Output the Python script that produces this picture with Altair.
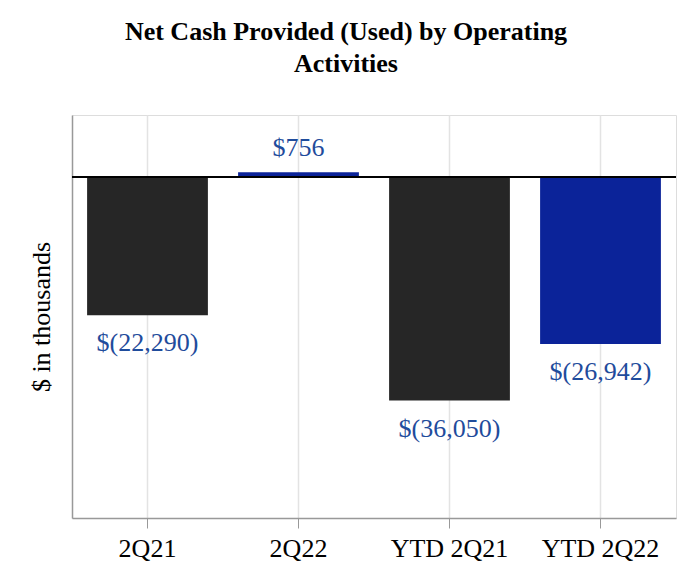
import altair as alt
import pandas as pd

categories = ["2Q21", "2Q22", "YTD 2Q21", "YTD 2Q22"]
values = [-22290, 756, -36050, -26942]
labels = ["$(22,290)", "$756", "$(36,050)", "$(26,942)"]
bar_colors = ["#262626", "#0b2399", "#262626", "#0b2399"]

df = pd.DataFrame({"cat": categories, "val": values, "label": labels, "color": bar_colors})

FONT = "Liberation Serif"
LABEL_COLOR = "#1f4c9c"
FS = 26

x_enc = alt.X("cat:N", sort=categories, title=None,
              scale=alt.Scale(paddingInner=0.2, paddingOuter=0.1),
              axis=alt.Axis(labelAngle=0, labelFont=FONT, labelFontSize=FS, labelColor="black",
                            labelPadding=7, tickSize=10, tickColor="#999999", domainColor="#999999",
                            domainWidth=1.5, grid=True, gridColor="#e3e3e3", gridWidth=1.5))
y_scale = alt.Scale(domain=[-55000, 10000], nice=False, zero=False)

base = alt.Chart(df)

bars = base.mark_bar().encode(
    x=x_enc,
    y=alt.Y("val:Q", scale=y_scale, title="$ in thousands",
            axis=alt.Axis(labels=False, ticks=False, grid=False, domainColor="#999999", domainWidth=1.5,
                          titleFont=FONT, titleFontSize=FS, titleFontWeight="normal", titleColor="black",
                          titlePadding=18)),
    y2=alt.datum(0),
    color=alt.Color("color:N", scale=None),
)

zero = base.mark_rule(color="black", strokeWidth=1.5).encode(y=alt.datum(0))

neg_text = base.transform_filter("datum.val < 0").mark_text(
    font=FONT, fontSize=FS, color=LABEL_COLOR, baseline="middle", dy=28
).encode(x=alt.X("cat:N", sort=categories), y=alt.Y("val:Q", scale=y_scale), text="label:N")

pos_text = base.transform_filter("datum.val >= 0").mark_text(
    font=FONT, fontSize=FS, color=LABEL_COLOR, baseline="middle", dy=-24
).encode(x=alt.X("cat:N", sort=categories), y=alt.Y("val:Q", scale=y_scale), text="label:N")

chart = alt.layer(bars, zero, neg_text, pos_text).properties(
    width=604, height=403,
    autosize=alt.AutoSizeParams(type="none"),
    padding={"left": 64, "top": 107, "right": 8, "bottom": 60},
    title=alt.TitleParams(["Net Cash Provided (Used) by Operating", "Activities"],
                          font=FONT, fontSize=FS, fontWeight="bold", color="black",
                          anchor="middle", dx=-28, offset=38, lineHeight=32),
).configure_view(stroke=None).configure(background="white")

chart.save("out.html", embed_options={"renderer": "svg", "actions": False})
